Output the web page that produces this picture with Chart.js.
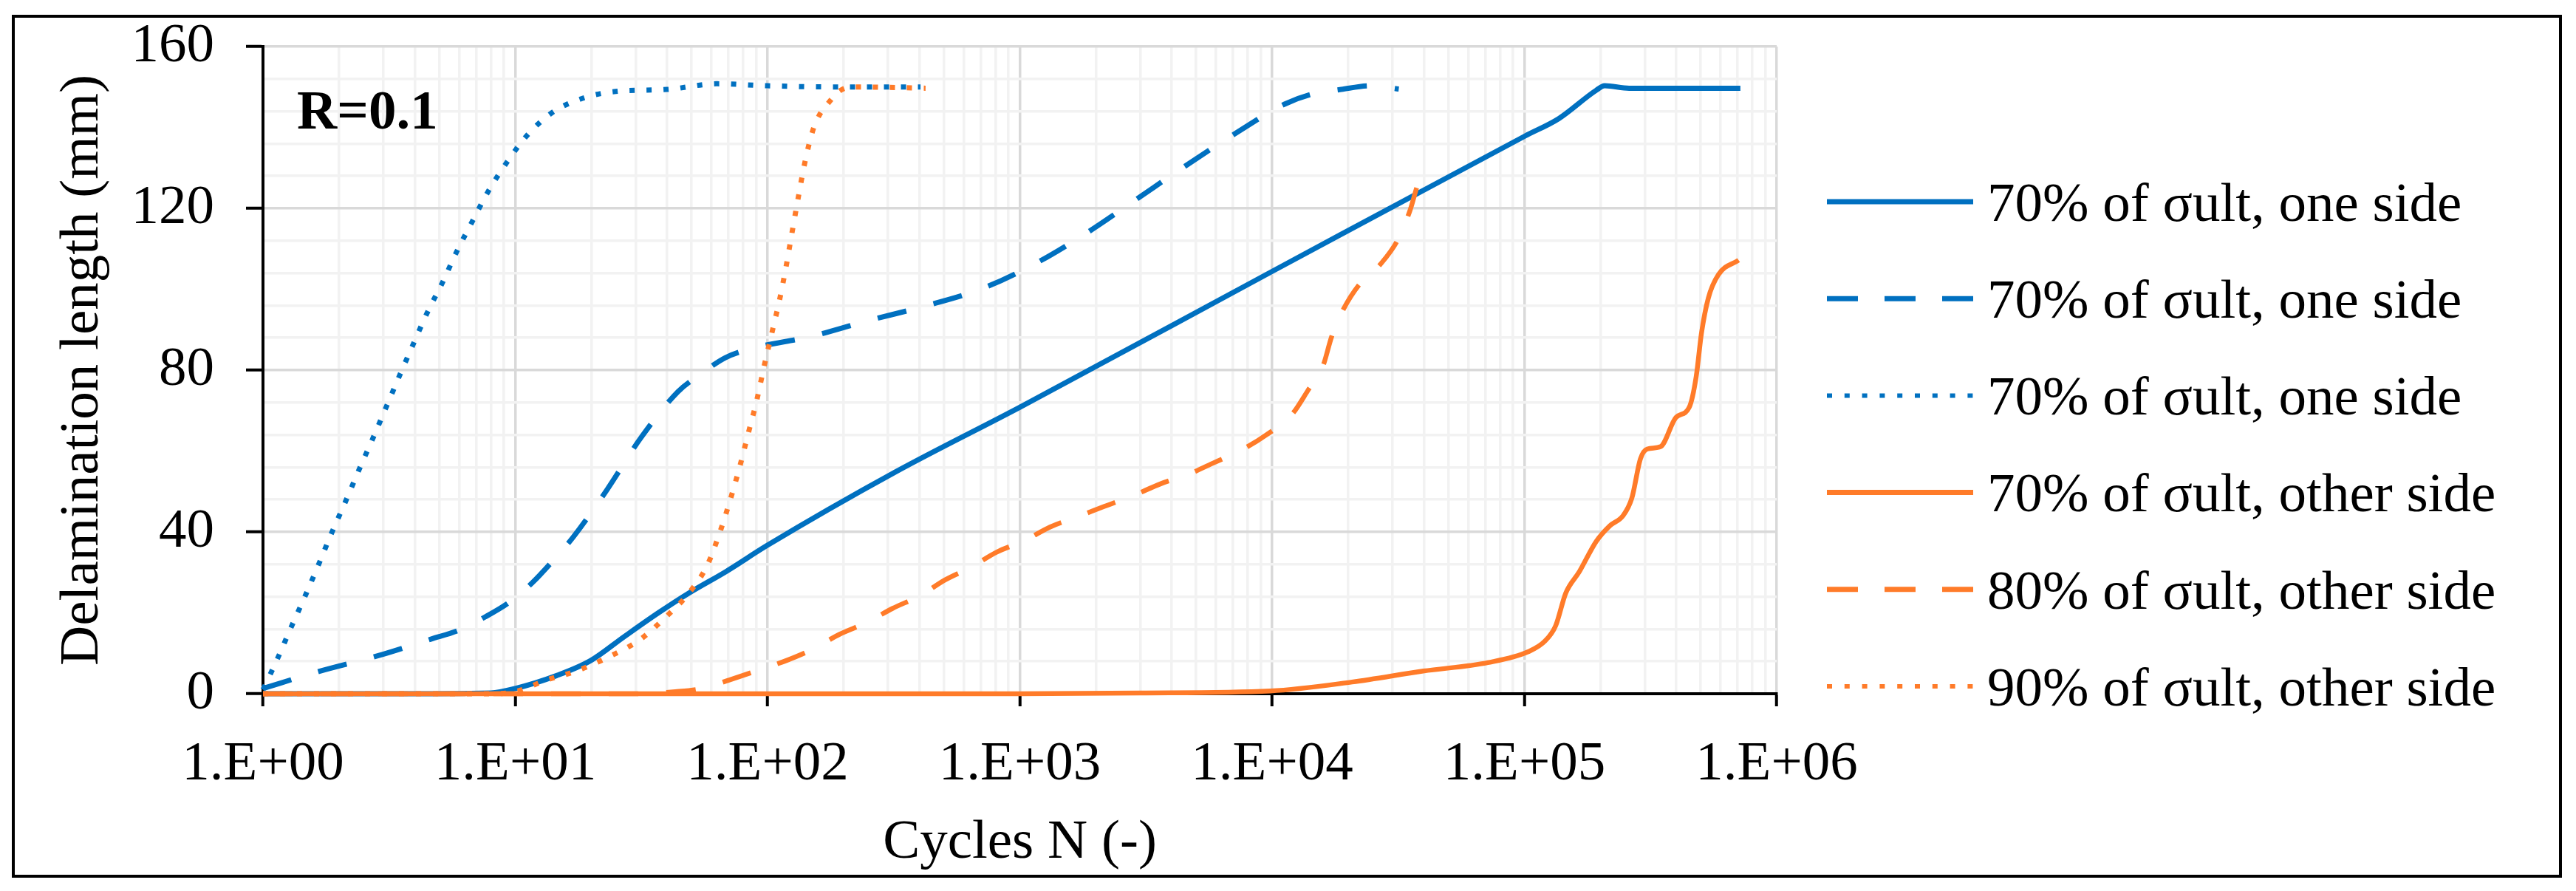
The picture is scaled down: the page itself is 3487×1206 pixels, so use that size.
<!DOCTYPE html>
<html>
<head>
<meta charset="utf-8">
<title>Delamination length vs cycles</title>
<script src="https://cdn.jsdelivr.net/npm/chart.js@4.4.1/dist/chart.umd.min.js"></script>
<style>
    html, body { margin: 0; padding: 0; background: #ffffff; }
    #wrap { position: relative; width: 3487px; height: 1206px; }
</style>
</head>
<body>
<div id="wrap"><canvas id="myChart"></canvas></div>
<script>
"use strict";

const seriesNames = [
    '70% of σult, one side',
    '70% of σult, one side',
    '70% of σult, one side',
    '70% of σult, other side',
    '80% of σult, other side',
    '90% of σult, other side'
];

// 70% one side, solid
const cyclesA = [1, 3, 8, 10, 14.6, 19.9, 27, 36.9, 48.8, 68.4, 99.3, 325, 1005, 9860, 100700, 137000, 192800, 208000, 260000, 718000];
const lengthA = [0, 0, 0.2, 1.3, 4.5, 8.2, 14.1, 20, 24.9, 30.2, 36.6, 55, 70.9, 104.2, 137.9, 142.2, 149.2, 150.3, 149.7, 149.7];

// 70% one side, dashed
const cyclesB = [1, 1.64, 2.9, 4.63, 5.97, 7.6, 9.51, 11.7, 14.1, 17, 23.2, 31.4, 44.2, 54.3, 68.1, 87.1, 148, 249, 419, 705, 1148, 1828, 2877, 4436, 7063, 11246, 14520, 18790, 24600, 31770];
const lengthB = [1.3, 5.4, 9.5, 13.5, 15.7, 19, 22.7, 27.5, 32.9, 38.8, 50.6, 63.2, 74.7, 79, 83.1, 85.4, 88.3, 92.2, 95.8, 100.1, 106.3, 113.8, 122.1, 130.1, 138.3, 145.8, 148.3, 149.4, 150.3, 149.5];

// 70% one side, dotted
const cyclesC = [1, 1.14, 1.29, 1.47, 1.66, 1.87, 2.12, 2.4, 2.72, 3.08, 3.48, 3.94, 4.47, 5.14, 5.86, 6.76, 7.83, 9.29, 11.2, 14.1, 18.7, 25, 40, 63, 100, 200, 404];
const lengthC = [1, 8.6, 16.3, 24.2, 31.9, 39.7, 47.4, 55.3, 63, 70.9, 78.7, 86.4, 94.1, 101.6, 109.3, 116.8, 124.3, 131.5, 138.2, 143.8, 147.3, 148.9, 149.4, 150.8, 150.3, 150, 150];

// 70% other side, solid
const cyclesD = [1, 100, 1000, 3000, 9860, 20750, 39700, 71600, 103700, 121000, 133000, 145900, 165200, 192800, 217800, 246600, 266700, 288400, 306900, 346700, 398900, 450800, 479700, 503500, 535800, 587500, 706300];
const lengthD = [0, 0, 0, 0.2, 0.7, 2.9, 5.6, 7.7, 10.4, 13.1, 16.8, 24.9, 30.2, 37.7, 41.5, 44.1, 48.4, 58.1, 60.5, 61.1, 68.3, 70.9, 78.4, 89.2, 97.8, 103.6, 107.2];

// 80% other side, dashed
const cyclesE = [1, 30, 43.1, 55.1, 70.6, 91.8, 118.6, 152, 193, 247, 313, 404, 504, 641, 809, 1047, 1315, 1718, 2158, 2818, 3614, 4677, 5916, 7638, 9484, 11970, 13870, 15920, 17220, 19190, 22180, 26980, 31480, 35080, 37930, 40740];
const lengthE = [0, 0, 0.5, 1.3, 3.4, 5.8, 8.2, 11.1, 14.7, 17.6, 21.1, 24.3, 28.1, 31.3, 35, 37.9, 41.2, 43.9, 46.3, 49, 51.9, 54.3, 57.2, 60.4, 64, 69, 75, 81.1, 88.3, 95.1, 101.2, 106.3, 112.2, 119.2, 126.2, 130.4];

// 90% other side, dotted
const cyclesF = [1, 8, 10, 13.3, 17.8, 23.8, 31.1, 39.4, 48.8, 57.7, 64.7, 71.1, 77.4, 83.8, 90.6, 96.8, 104, 111.7, 118.6, 125, 132.1, 140, 150.7, 160.3, 175, 195, 225, 423];
const lengthF = [0, 0, 0.5, 3.4, 5.8, 9.3, 13.3, 18.9, 24.9, 31.8, 39.9, 47.9, 55.9, 64.3, 72.5, 80.8, 89.2, 97.5, 105.8, 114, 122.4, 130.8, 139, 143, 146.2, 149.2, 150, 149.7];

const xMajorTicks = [1, 10, 100, 1000, 10000, 100000, 1000000];
const xTickLabels = ['1.E+00', '1.E+01', '1.E+02', '1.E+03', '1.E+04', '1.E+05', '1.E+06'];
const yTickValues = [0, 8, 16, 24, 32, 40, 48, 56, 64, 72, 80, 88, 96, 104, 112, 120, 128, 136, 144, 152, 160];
const yTickLabels = ['0', '40', '80', '120', '160'];

const blue = '#0070c0';
const orange = '#ff7b29';
const serif = "'Liberation Serif', 'Times New Roman', serif";

const solid = [];
const dashed = [40, 38];
const dotted = [7, 16];

const lineStyles = [
    {color: blue, dash: solid, width: 7},
    {color: blue, dash: dashed, width: 7},
    {color: blue, dash: dotted, width: 7},
    {color: orange, dash: solid, width: 6.5},
    {color: orange, dash: dashed, width: 6.5},
    {color: orange, dash: dotted, width: 7}
];

const allCycles = [cyclesA, cyclesB, cyclesC, cyclesD, cyclesE, cyclesF];
const allLengths = [lengthA, lengthB, lengthC, lengthD, lengthE, lengthF];

function toPoints(xs, ys) {
    return xs.map((x, i) => ({x: x, y: ys[i]}));
}

function isDecade(v) {
    const l = Math.log10(v);
    return Math.abs(l - Math.round(l)) < 1e-9;
}

// every 1..9 x 10^k between 1 and 1e6
const xTickValues = [];
for (let e = 0; e < 6; e++) {
    for (let m = 1; m < 10; m++) {
        xTickValues.push(m * Math.pow(10, e));
    }
}
xTickValues.push(1000000);

const datasets = seriesNames.map((name, i) => ({
    label: name,
    data: toPoints(allCycles[i], allLengths[i]),
    borderColor: lineStyles[i].color,
    backgroundColor: lineStyles[i].color,
    borderWidth: lineStyles[i].width,
    borderDash: lineStyles[i].dash,
    borderCapStyle: 'butt',
    pointRadius: 0,
    fill: false,
    cubicInterpolationMode: 'monotone',
    clip: false,
    order: seriesNames.length - i
}));

// legend on the right, text label R=0.1 and the outer frame
const extrasPlugin = {
    id: 'extras',
    afterDraw(chart) {
        const ctx = chart.ctx;
        const area = chart.chartArea;
        ctx.save();

        ctx.fillStyle = '#000';
        ctx.font = 'bold 75px ' + serif;
        ctx.textAlign = 'left';
        ctx.textBaseline = 'alphabetic';
        ctx.fillText('R=0.1', area.left + 46, area.top + 111);

        const x0 = area.right + 68;
        const x1 = area.right + 266;
        ctx.font = '75px ' + serif;
        ctx.textBaseline = 'middle';
        seriesNames.forEach((name, i) => {
            const y = area.top + 210 + i * 131.2;
            const st = lineStyles[i];
            ctx.beginPath();
            ctx.strokeStyle = st.color;
            ctx.lineWidth = st.dash === dotted ? 6 : 7;
            ctx.lineCap = 'butt';
            ctx.setLineDash(st.dash === dashed ? [42, 36] : (st.dash === dotted ? [7, 16.8] : []));
            ctx.moveTo(x0, y);
            ctx.lineTo(x1, y);
            ctx.stroke();
            ctx.setLineDash([]);
            ctx.fillStyle = '#000';
            ctx.fillText(name, x1 + 19, y + 6);
        });

        ctx.strokeStyle = '#000';
        ctx.lineWidth = 4;
        ctx.strokeRect(18, 22, 3448, 1164);
        ctx.restore();
    }
};

Chart.defaults.font.family = serif;
Chart.defaults.font.size = 75;
Chart.defaults.color = '#000';

const ctx = document.getElementById('myChart');

const chart = new Chart(ctx, {
    type: 'line',
    data: {datasets: datasets},
    options: {
        responsive: true,
        maintainAspectRatio: false,
        devicePixelRatio: 1,
        animation: false,
        layout: {
            padding: {left: 20, right: 1082, top: 63, bottom: 20}
        },
        plugins: {
            legend: {display: false},
            tooltip: {enabled: false}
        },
        scales: {
            x: {
                type: 'logarithmic',
                min: 1,
                max: 1000000,
                afterBuildTicks: (axis) => {
                    axis.ticks = xTickValues.map((v) => ({value: v}));
                },
                afterFit: (axis) => {
                    axis.height = 247;
                    axis.paddingLeft = 0;
                    axis.paddingRight = 0;
                },
                ticks: {
                    autoSkip: false,
                    maxRotation: 0,
                    padding: 34,
                    callback: (value) => {
                        const idx = xMajorTicks.indexOf(value);
                        return idx >= 0 ? xTickLabels[idx] : '';
                    }
                },
                grid: {
                    lineWidth: 3.5,
                    color: (c) => (c.tick && isDecade(c.tick.value)) ? '#d9d9d9' : '#f2f2f2',
                    tickColor: (c) => (c.tick && isDecade(c.tick.value)) ? '#000' : 'rgba(0,0,0,0)',
                    tickLength: 17,
                    tickWidth: 4
                },
                border: {color: '#000', width: 4},
                title: {
                    display: true,
                    text: 'Cycles N (-)',
                    padding: {top: 16, bottom: 0}
                }
            },
            y: {
                type: 'linear',
                min: 0,
                max: 160,
                afterBuildTicks: (axis) => {
                    axis.ticks = yTickValues.map((v) => ({value: v}));
                },
                afterFit: (axis) => {
                    axis.width = 336;
                    axis.paddingTop = 0;
                    axis.paddingBottom = 0;
                },
                ticks: {
                    autoSkip: false,
                    padding: 43,
                    callback: (value) => {
                        const label = String(value);
                        return yTickLabels.includes(label) ? label : '';
                    }
                },
                grid: {
                    lineWidth: 3.5,
                    color: (c) => (c.tick && c.tick.value % 40 === 0) ? '#d9d9d9' : '#f2f2f2',
                    tickColor: (c) => (c.tick && c.tick.value % 40 === 0) ? '#000' : 'rgba(0,0,0,0)',
                    tickLength: 23,
                    tickWidth: 4
                },
                border: {color: '#000', width: 4},
                title: {
                    display: true,
                    text: 'Delamination length (mm)',
                    padding: {top: 47, bottom: 0}
                }
            }
        }
    },
    plugins: [extrasPlugin]
});
</script>
</body>
</html>
